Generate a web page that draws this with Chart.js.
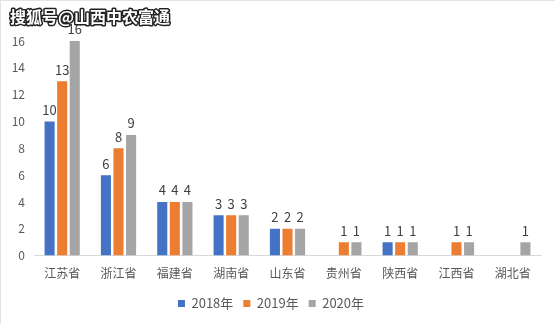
<!DOCTYPE html>
<html><head><meta charset="utf-8">
<script src="https://cdn.jsdelivr.net/npm/chart.js@4/dist/chart.umd.min.js"></script>
<style>html,body{margin:0;padding:0;background:#fff;}#wrap{position:relative;width:555px;height:324px;box-sizing:border-box;border-top:1px solid #e3e3e3;border-left:1px solid #e3e3e3;}</style>
</head><body><div id="wrap"><canvas id="c" width="554" height="323"></canvas></div>
<script>
const categories = ["江苏省","浙江省","福建省","湖南省","山东省","贵州省","陕西省","江西省","湖北省"];
const series2018 = [10,6,4,3,2,null,1,null,null];
const series2019 = [13,8,4,3,2,1,1,1,null];
const series2020 = [16,9,4,3,2,1,1,1,1];
const seriesNames = ["2018年","2019年","2020年"];
const watermark = "搜狐号@山西中农富通";

const FONT = "'Noto Sans CJK SC', 'Liberation Sans', sans-serif";
const labelPlugin = {
  id:'vals',
  afterDatasetsDraw(chart){
    const ctx = chart.ctx;
    ctx.save();
    ctx.font = "13px " + FONT;
    ctx.fillStyle = "#404040";
    ctx.textAlign = "center";
    ctx.textBaseline = "bottom";
    chart.data.datasets.forEach((ds,i)=>{
      const meta = chart.getDatasetMeta(i);
      meta.data.forEach((bar,j)=>{
        const v = ds.data[j];
        if (v === null || v === undefined) return;
        ctx.fillText(String(v), bar.x, bar.y - 5);
      });
    });
    ctx.restore();
  },
  afterDraw(chart){
    const ctx = chart.ctx;
    ctx.save();
    ctx.font = "bold 16px " + FONT;
    ctx.textAlign = "left";
    ctx.textBaseline = "middle";
    ctx.lineWidth = 3;
    ctx.strokeStyle = "#222";
    ctx.lineJoin = "round";
    ctx.strokeText(watermark, 9, 16);
    ctx.fillStyle = "#fff";
    ctx.fillText(watermark, 9, 16);
    ctx.restore();
  }
};

new Chart(document.getElementById('c'), {
  type:'bar',
  data:{
    labels:categories,
    datasets:[
      {label:seriesNames[0], data:series2018, backgroundColor:'#4472C4', borderColor:'#ffffff', borderWidth:0},
      {label:seriesNames[1], data:series2019, backgroundColor:'#ED7D31', borderColor:'#ffffff', borderWidth:0},
      {label:seriesNames[2], data:series2020, backgroundColor:'#A5A5A5', borderColor:'#ffffff', borderWidth:0}
    ]
  },
  options:{
    responsive:false,
    animation:false,
    devicePixelRatio:1,
    layout:{padding:{top:40,right:14,left:0,bottom:4}},
    datasets:{bar:{categoryPercentage:0.67,barPercentage:0.8}},
    plugins:{
      legend:{position:'bottom',labels:{boxWidth:7,boxHeight:7,padding:10,color:'#595959',font:{family:FONT,size:13}}},
      tooltip:{enabled:false}
    },
    scales:{
      x:{
        afterFit(s){ s.height -= 5; },
        grid:{display:false, drawTicks:false},
        border:{display:true,color:'#D9D9D9',width:1},
        ticks:{color:'#595959',font:{family:FONT,size:12},padding:11}
      },
      y:{
        min:0,max:16,
        afterFit(s){ s.width = 33; },
        grid:{display:false, drawTicks:false},
        border:{display:false},
        ticks:{stepSize:2,color:'#595959',font:{family:FONT,size:12},padding:9}
      }
    }
  },
  plugins:[labelPlugin]
});
</script></body></html>
